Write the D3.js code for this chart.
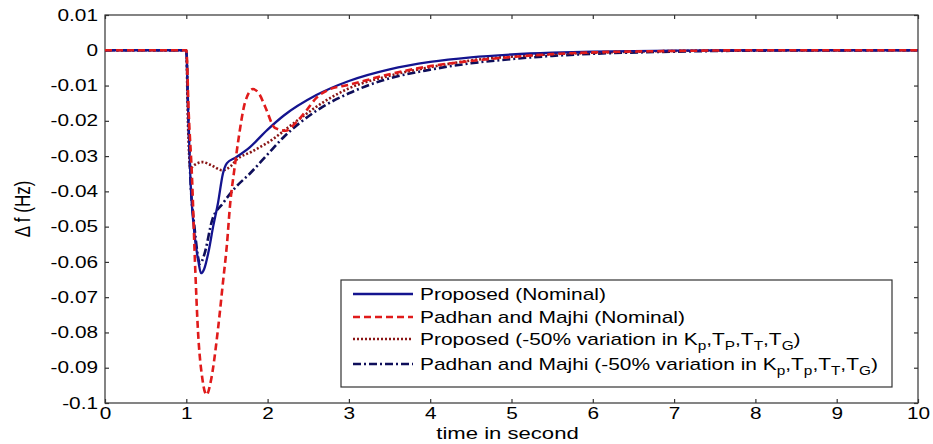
<!DOCTYPE html>
<html>
<head>
<meta charset="utf-8">
<script src="https://cdn.jsdelivr.net/npm/d3@7"></script>
<style>
  body { margin: 0; background: #fff; }
  text { font-family: "Liberation Sans", Arial, sans-serif; fill: #000; }
</style>
</head>
<body>
<script>
// time axis ticks and value ticks
var xTicks = [0, 1, 2, 3, 4, 5, 6, 7, 8, 9, 10];
var yTicks = [0.01, 0, -0.01, -0.02, -0.03, -0.04, -0.05, -0.06, -0.07, -0.08, -0.09, -0.1];

// Proposed (Nominal)
var propT = [0, 1.0, 1.02, 1.05, 1.1, 1.15, 1.18, 1.22, 1.27, 1.33, 1.39, 1.45, 1.5, 1.6, 1.78, 2.0, 2.2, 2.6, 3.0, 3.5, 4.0, 4.5, 5.0, 5.5, 6, 7, 8, 10];
var propV = [0, 0, -0.015, -0.036, -0.052, -0.06, -0.0632, -0.062, -0.0575, -0.05, -0.0433, -0.035, -0.032, -0.0305, -0.0275, -0.0225, -0.0185, -0.0127, -0.0087, -0.0054, -0.0033, -0.002, -0.0012, -0.0007, -0.0004, -0.0001, 0, 0];

// Padhan and Majhi (Nominal)
var padT = [0, 1.0, 1.03, 1.07, 1.11, 1.14, 1.2, 1.25, 1.3, 1.39, 1.45, 1.5, 1.54, 1.59, 1.64, 1.72, 1.82, 1.9, 1.97, 2.09, 2.22, 2.35, 2.48, 2.6, 2.75, 3.0, 3.5, 4.0, 4.4, 5, 5.5, 6, 7, 8, 10];
var padV = [0, 0, -0.018, -0.036, -0.062, -0.078, -0.0935, -0.0977, -0.094, -0.079, -0.066, -0.055, -0.0434, -0.034, -0.0255, -0.015, -0.011, -0.0125, -0.016, -0.022, -0.0228, -0.0205, -0.017, -0.0135, -0.0112, -0.0098, -0.0068, -0.0045, -0.0033, -0.0019, -0.0011, -0.0006, -0.0002, 0, 0];

// Proposed (-50% variation)
var propVarT = [0, 1.0, 1.02, 1.05, 1.1, 1.2, 1.3, 1.44, 1.55, 1.62, 1.8, 2.0, 2.4, 2.7, 3.0, 3.5, 4.0, 4.6, 5, 5.5, 6, 7, 8, 10];
var propVarV = [0, 0, -0.02, -0.0334, -0.0325, -0.0317, -0.0325, -0.034, -0.0328, -0.031, -0.0288, -0.0262, -0.0193, -0.0145, -0.0108, -0.0072, -0.0048, -0.0026, -0.0018, -0.0011, -0.0007, -0.0002, 0, 0];

// Padhan and Majhi (-50% variation)
var padVarT = [0, 1.0, 1.02, 1.05, 1.1, 1.17, 1.22, 1.32, 1.45, 1.6, 1.78, 2.0, 2.19, 2.61, 3.0, 3.42, 4.0, 4.5, 5.0, 5.5, 6, 7, 8, 10];
var padVarV = [0, 0, -0.015, -0.036, -0.05, -0.0605, -0.058, -0.048, -0.0434, -0.039, -0.035, -0.0295, -0.0248, -0.017, -0.0122, -0.0085, -0.0055, -0.0037, -0.0025, -0.0016, -0.001, -0.0004, -0.0001, 0];

var w = 933, h = 444;
var mL = 105, mR = 918, mT = 15, mB = 403;
var sx = 1.3; // text in the figure is stretched sideways

var svg = d3.select("body").append("svg")
	.attr("width", w)
	.attr("height", h);

var x = d3.scaleLinear().domain([0, 10]).range([mL, mR]);
var y = d3.scaleLinear().domain([-0.1, 0.01]).range([mB, mT]);

// plot box
svg.append("rect")
	.attr("x", mL).attr("y", mT)
	.attr("width", mR - mL).attr("height", mB - mT)
	.style("fill", "#fff").style("stroke", "#333").style("stroke-width", 1.2);

var tickLen = 4;
function styleAxis(g, hideText) {
	g.select(".domain").remove();
	g.selectAll(".tick line").style("stroke", "#333").style("stroke-width", 1.2);
	if (hideText) { g.selectAll(".tick text").remove(); return; }
	g.selectAll(".tick text")
		.style("font-size", "16px")
		.style("font-family", "'Liberation Sans', Arial, sans-serif");
}

svg.append("g").attr("transform", "translate(0," + mB + ")")
	.call(d3.axisBottom(x).tickValues(xTicks).tickSizeInner(-tickLen).tickPadding(5).tickFormat(d3.format("d")))
	.call(function(g){
		styleAxis(g, false);
		g.selectAll(".tick text").attr("transform", "scale(" + sx + ",1)");
	});
svg.append("g").attr("transform", "translate(0," + mT + ")")
	.call(d3.axisTop(x).tickValues(xTicks).tickSizeInner(-tickLen))
	.call(function(g){ styleAxis(g, true); });
svg.append("g").attr("transform", "translate(" + mL + ",0)")
	.call(d3.axisLeft(y).tickValues(yTicks).tickSizeInner(-tickLen).tickPadding(7)
		.tickFormat(function(d){ return d === 0 ? "0" : String(+d.toFixed(2)); }))
	.call(function(g){
		styleAxis(g, false);
		g.selectAll(".tick text")
			.attr("x", -7 / sx)
			.attr("transform", "scale(" + sx + ",1)");
	});
svg.append("g").attr("transform", "translate(" + mR + ",0)")
	.call(d3.axisRight(y).tickValues(yTicks).tickSizeInner(-tickLen))
	.call(function(g){ styleAxis(g, true); });

// axis titles
svg.append("text")
	.attr("transform", "translate(" + ((mL + mR) / 2 - 4) + ",439) scale(" + sx + ",1)")
	.attr("text-anchor", "middle")
	.style("font-size", "17px")
	.text("time in second");
svg.append("text")
	.attr("transform", "translate(30,209) rotate(-90) scale(1," + sx + ")")
	.attr("text-anchor", "middle")
	.style("font-size", "17px")
	.text("\u0394 f (Hz)");

var series = [
	{ t: propT, v: propV, color: "#14148f", dash: null, width: 2.3 },
	{ t: padT, v: padV, color: "#e01b1b", dash: "7,4", width: 2.6 },
	{ t: propVarT, v: propVarV, color: "#8a1616", dash: "2,2", width: 2.6 },
	{ t: padVarT, v: padVarV, color: "#0e0e5a", dash: "8,3,2,3", width: 2.6 }
];

var line = d3.line()
	.x(function(d){ return x(d[0]); })
	.y(function(d){ return y(d[1]); })
	.curve(d3.curveMonotoneX);

svg.append("clipPath").attr("id", "clip").append("rect")
	.attr("x", mL).attr("y", mT).attr("width", mR - mL).attr("height", mB - mT);

// draw order: dash-dot, dotted, solid, dashed
[3, 2, 0, 1].forEach(function(i){
	var s = series[i];
	svg.append("path")
		.datum(d3.zip(s.t, s.v))
		.attr("clip-path", "url(#clip)")
		.attr("d", line)
		.style("fill", "none")
		.style("stroke", s.color)
		.style("stroke-width", s.width)
		.style("stroke-dasharray", s.dash)
		.style("stroke-linejoin", "round");
});

// legend
var lg = svg.append("g");
lg.append("rect")
	.attr("x", 341).attr("y", 280).attr("width", 551).attr("height", 107)
	.style("fill", "#fff").style("stroke", "#333").style("stroke-width", 1.2);

var legendRows = [
	{ y: 294, parts: [["Proposed (Nominal)", 0]] },
	{ y: 317, parts: [["Padhan and Majhi (Nominal)", 0]] },
	{ y: 339, parts: [["Proposed (-50% variation in K", 0], ["p", 1], [",T", 0], ["P", 1], [",T", 0], ["T", 1], [",T", 0], ["G", 1], [")", 0]] },
	{ y: 364, parts: [["Padhan and Majhi (-50% variation in K", 0], ["p", 1], [",T", 0], ["p", 1], [",T", 0], ["T", 1], [",T", 0], ["G", 1], [")", 0]] }
];

legendRows.forEach(function(r, i){
	var s = series[i];
	lg.append("line")
		.attr("x1", 353).attr("x2", 413).attr("y1", r.y).attr("y2", r.y)
		.style("stroke", s.color).style("stroke-width", s.width)
		.style("stroke-dasharray", s.dash);
	var t = lg.append("text")
		.attr("transform", "translate(420," + (r.y + 6) + ") scale(1.23,1)")
		.style("font-size", "17px");
	var sub = false;
	r.parts.forEach(function(p){
		var dy = 0;
		if (p[1] && !sub) { dy = 5; sub = true; }
		else if (!p[1] && sub) { dy = -5; sub = false; }
		t.append("tspan")
			.attr("dy", dy)
			.style("font-size", p[1] ? "12.5px" : "17px")
			.text(p[0]);
	});
});
</script>
</body>
</html>
